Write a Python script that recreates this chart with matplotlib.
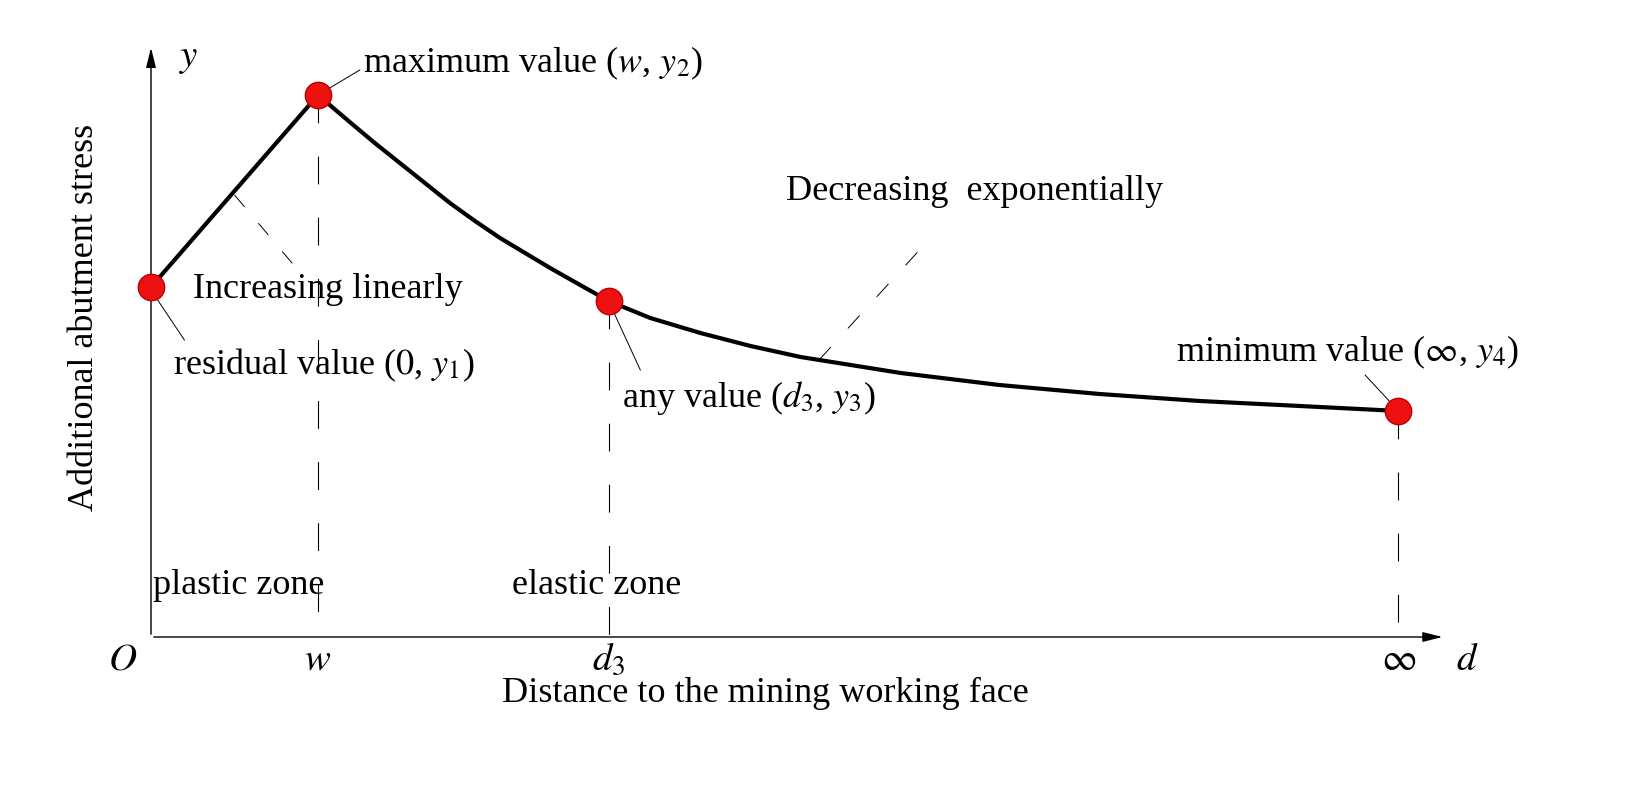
import matplotlib.pyplot as plt

plt.rcParams['font.family'] = ['Liberation Serif', 'DejaVu Serif']
plt.rcParams['mathtext.fontset'] = 'stix'

# key points (distance units: w = 1, stress units arbitrary)
pt_x = [0.0, 1.0, 2.74, 7.47]
pt_y = [3.50, 5.42, 3.36, 2.26]
pt_ticks = ["$O$", "$w$", "$d_3$", "$\\infty$"]

# curve
curve_x = [0.0, 1.0, 1.19, 1.34, 1.49, 1.64, 1.79, 1.94, 2.09, 2.24, 2.39,
           2.57, 2.74, 2.99, 3.29, 3.59, 3.89, 4.49, 5.08, 5.68, 6.28, 6.88, 7.47]
curve_y = [3.50, 5.42, 5.15, 4.94, 4.74, 4.54, 4.34, 4.16, 3.99, 3.84, 3.69,
           3.52, 3.36, 3.19, 3.04, 2.91, 2.80, 2.64, 2.52, 2.43, 2.36, 2.31, 2.26]

fig = plt.figure(figsize=(16.5, 8.1), dpi=100)
ax = fig.add_axes([0, 0, 1, 1])
ax.set_xlim(-151 / 167, (1650 - 151) / 167)
ax.set_ylim(-1.73, 6.37)
ax.axis("off")

fs = 26
# axes with arrows
ax.annotate("", xy=(7.75, 0), xytext=(0, 0),
            arrowprops=dict(arrowstyle="-|>,head_length=1.2,head_width=0.3", color="k", lw=1))
ax.annotate("", xy=(0, 5.92), xytext=(0, 0),
            arrowprops=dict(arrowstyle="-|>,head_length=1.2,head_width=0.3", color="k", lw=1))
ax.text(0.17, 5.79, "$y$", fontsize=fs + 2, ha="left", va="center")
ax.text(7.88, -0.23, "$d$", fontsize=fs + 2, ha="center", va="center")

# dashed drop lines
for x, y in zip(pt_x[1:], pt_y[1:]):
    ax.plot([x, x], [y, 0], color="k", lw=0.8, dashes=(25, 30))

# curve and points
ax.plot(curve_x, curve_y, color="k", lw=3, solid_capstyle="round",
        solid_joinstyle="round", zorder=3)
ax.plot(pt_x, pt_y, "o", ms=19, mfc="#ee1111", mec="#bb0000", mew=1, zorder=4)

for x, lab in zip(pt_x, pt_ticks):
    xx = x - 0.17 if lab == "$O$" else x
    ax.text(xx, -0.23, lab, fontsize=fs + 2, ha="center", va="center")

ax.text(3.68, -0.56, "Distance to the mining working face", fontsize=fs, ha="center", va="center")
ax.text(-0.4, 3.2, "Additional abutment stress", fontsize=fs, rotation=90, ha="center", va="center")

# annotations with leader lines
def lead(x0, y0, x1, y1, **kw):
    ax.plot([x0, x1], [y0, y1], color="k", lw=0.7, **kw)

ax.text(1.27, 5.74, "maximum value ($w$, $y_2$)", fontsize=fs, va="center")
lead(1.0, 5.42, 1.25, 5.67)
ax.text(0.25, 3.47, "Increasing linearly", fontsize=fs, va="center")
lead(0.5, 4.42, 0.89, 3.65, dashes=(16, 22))
ax.text(0.13, 2.72, "residual value ($0$, $y_1$)", fontsize=fs, va="center")
lead(0.0, 3.47, 0.2, 2.97)
ax.text(2.82, 2.39, "any value ($d_3$, $y_3$)", fontsize=fs, va="center")
lead(2.74, 3.36, 2.93, 2.67)
ax.text(3.8, 4.45, "Decreasing  exponentially", fontsize=fs, va="center")
lead(4.0, 2.77, 4.64, 3.94, dashes=(18, 26))
ax.text(6.14, 2.85, "minimum value ($\\infty$, $y_4$)", fontsize=fs, va="center")
lead(7.47, 2.26, 7.27, 2.62)
ax.text(0.01, 0.52, "plastic zone", fontsize=fs, va="center")
ax.text(2.67, 0.52, "elastic zone", fontsize=fs, ha="center", va="center")

fig.savefig("out.png", dpi=100)
